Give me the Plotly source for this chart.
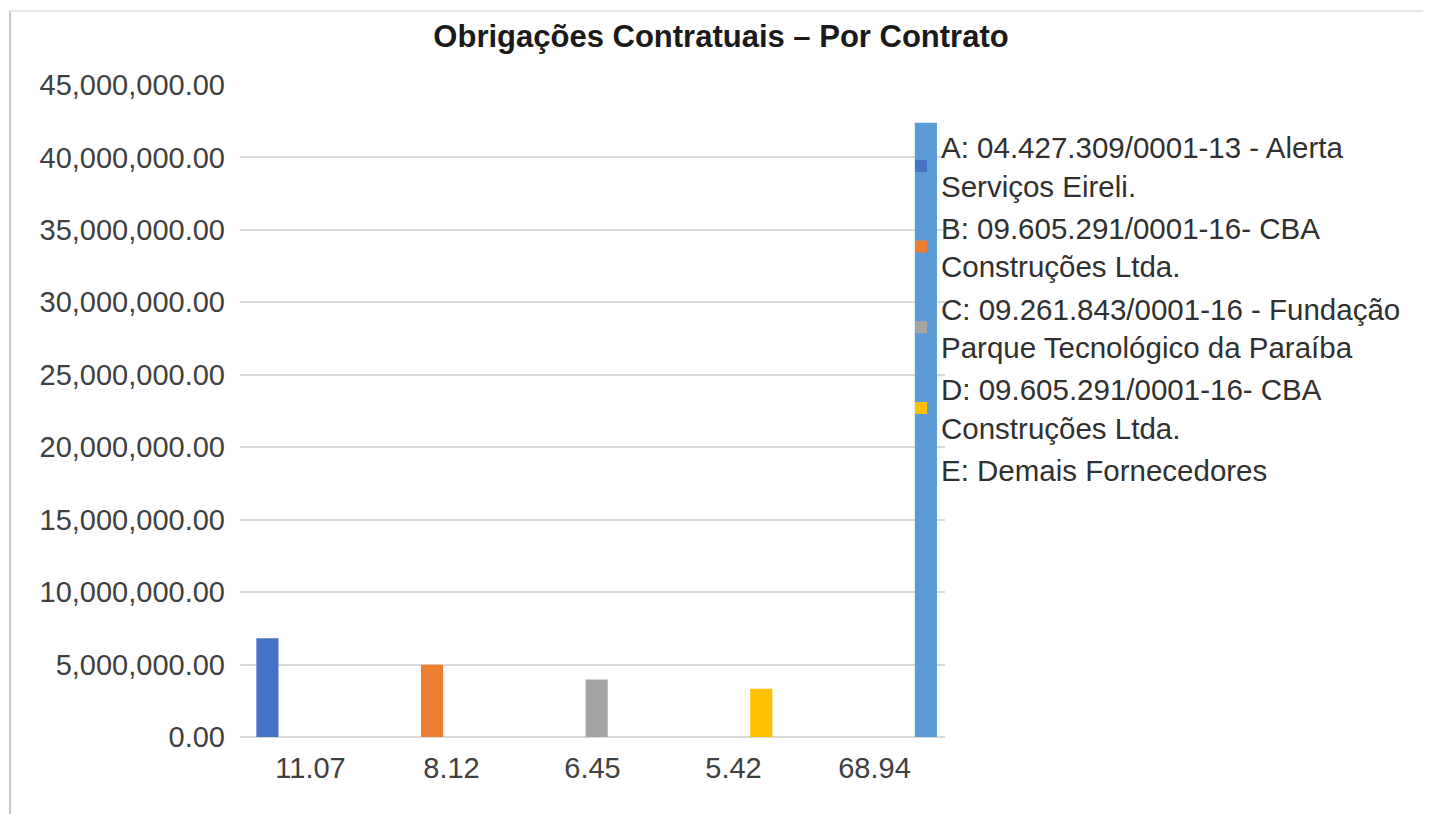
import plotly.graph_objects as go

categories = ["11.07", "8.12", "6.45", "5.42", "68.94"]
series_names = [
    "A: 04.427.309/0001-13 - Alerta<br>Serviços Eireli.",
    "B: 09.605.291/0001-16- CBA<br>Construções Ltda.",
    "C: 09.261.843/0001-16 - Fundação<br>Parque Tecnológico da Paraíba",
    "D: 09.605.291/0001-16- CBA<br>Construções Ltda.",
    "E: Demais Fornecedores",
]
series_values = [6810000, 4990000, 3970000, 3330000, 42400000]
series_colors = ["#4472C4", "#ED7D31", "#A5A5A5", "#FFC000", "#5B9BD5"]
y_ticks = list(range(0, 45000001, 5000000))

OFF = 8  # page body margin
W, H = 1431 - OFF, 814 - OFF
# plot area in screen pixels
SL, SR, ST, SB = 240, 945, 85, 737
L, R, T, B = SL - OFF, SR - OFF, ST - OFF, SB - OFF

def px(x):  # screen x -> paper
    return (x - OFF - L) / (R - L)

def py(y):  # screen y -> paper
    return (B - (y - OFF)) / (B - T)

# clustered-bar geometry (category units): bar width and per-series slot
BAR_W = 0.157
SLOT = 0.1675
FIRST_OFFSET = -0.384

fig = go.Figure()
for i, (name, val, col) in enumerate(zip(series_names, series_values, series_colors)):
    yvals = [None] * len(categories)
    yvals[i] = val
    fig.add_trace(go.Bar(x=categories, y=yvals, name=name, marker_color=col,
                         marker_line_width=0, width=BAR_W,
                         offset=FIRST_OFFSET + SLOT * i,
                         legendgroup=f"g{i}"))

font_family = "Liberation Sans, Arial, sans-serif"
fig.update_layout(
    width=W, height=H,
    margin=dict(l=L, r=W - R, t=T, b=H - B, autoexpand=False),
    paper_bgcolor="white", plot_bgcolor="white",
    barmode="overlay",
    title=dict(text="<b>Obrigações Contratuais – Por Contrato</b>",
               x=(721 - OFF) / W, xanchor="center", y=1 - (36 - OFF) / H,
               yanchor="middle",
               font=dict(family=font_family, size=31, color="#1a1a1a")),
    font=dict(family=font_family, size=29, color="#404040"),
    legend=dict(x=px(901), xanchor="left", y=py(121), yanchor="top",
                bgcolor="rgba(0,0,0,0)", font=dict(size=29.5, color="#303030"),
                tracegroupgap=1, itemwidth=30, valign="middle",
                traceorder="grouped"),
    showlegend=True,
)
fig.update_yaxes(range=[0, 45000000], tickvals=y_ticks, tickformat=",.2f",
                 showgrid=True, gridcolor="#d9d9d9", gridwidth=2,
                 zeroline=True, zerolinecolor="#d9d9d9", zerolinewidth=2,
                 showline=False, ticks="", ticklabelstandoff=14,
                 tickfont=dict(size=29, color="#404040"))
fig.update_xaxes(showgrid=False, showline=False, ticks="",
                 ticklabelstandoff=11,
                 tickfont=dict(size=29, color="#404040"))

# chart frame lines (left and top)
fig.add_shape(type="line", xref="paper", yref="paper",
              x0=px(10), x1=px(10), y0=py(11), y1=py(814),
              line=dict(color="#c8c8c8", width=2))
fig.add_shape(type="line", xref="paper", yref="paper",
              x0=px(10), x1=px(1428), y0=py(11), y1=py(11),
              line=dict(color="#e6e6e6", width=2))

fig.write_html("out.html")
